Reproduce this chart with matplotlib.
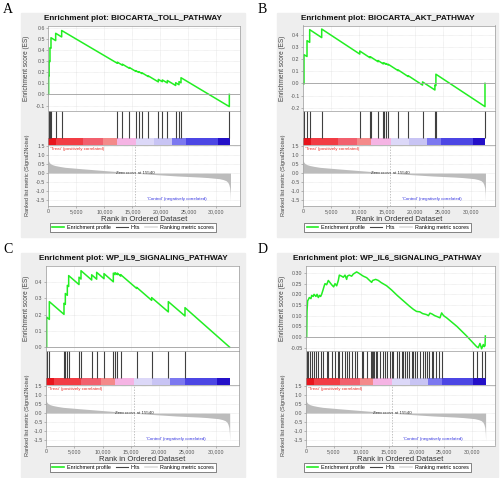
import matplotlib
matplotlib.use("Agg")
import matplotlib.pyplot as plt
from matplotlib.patches import Rectangle
from matplotlib.lines import Line2D

plt.rcParams['font.family'] = ['Liberation Sans', 'DejaVu Sans']

W, H = 500, 478

# shared ranked gene list
n_genes = 32500
x_max = 34200
zero_cross = 15540
metric_rank = [0, 50, 150, 350, 700, 1200, 2000, 3000, 4500, 6000, 8000, 10000, 12000,
               14000, 15540, 17000, 19000, 21000, 23000, 25000, 27000, 28500, 29500,
               30500, 31200, 31700, 32000, 32200, 32350, 32450, 32500]
metric_val = [0.75, 0.68, 0.6, 0.53, 0.47, 0.42, 0.37, 0.32, 0.28, 0.24, 0.19, 0.14, 0.09,
              0.04, 0.0, -0.04, -0.08, -0.12, -0.16, -0.19, -0.22, -0.25, -0.28,
              -0.31, -0.36, -0.42, -0.5, -0.62, -0.8, -1.1, -1.55]
bar_edges = [0, 1400, 6200, 9700, 12200, 15600, 18800, 22000, 24600, 30250, 32500]
bar_colors = ['#e8141c', '#f23c44', '#f2606e', '#f48a8a', '#f5b4e4',
              '#dcd8f8', '#c8c4f4', '#7c78f0', '#4c46e4', '#2410c8']
rank_ticks = [0, 5000, 10000, 15000, 20000, 25000, 30000]
rank_labels = ['0', '5,000', '10,000', '15,000', '20,000', '25,000', '30,000']
metric_ticks = [1.5, 1.0, 0.5, 0.0, -0.5, -1.0, -1.5]

# A
titleA = "Enrichment plot: BIOCARTA_TOLL_PATHWAY"
hitsA = [60, 150, 300, 480, 1315, 2385, 12315, 13207, 14456, 15587, 16122, 16716, 17846,
         19630, 20343, 21235, 22722, 23317, 23674, 32296]
esA_rank = [0, 60, 60, 150, 150, 300, 300, 480, 480, 1315, 1315, 2385, 2385, 12315, 12315,
            13207, 13207, 14456, 14456, 15587, 15587, 16122, 16122, 16716, 16716, 17846, 17846,
            19630, 19630, 20343, 20343, 21235, 21235, 22722, 22722, 23317, 23317, 23674, 23674,
            32296, 32296]
esA_val = [0, 0, 0.17, 0.167, 0.30, 0.295, 0.42, 0.415, 0.51, 0.484, 0.55, 0.517, 0.575, 0.28, 0.29,
           0.263, 0.272, 0.235, 0.242, 0.208, 0.214, 0.198, 0.205, 0.187, 0.194, 0.16, 0.166,
           0.1125, 0.135, 0.114, 0.13, 0.103, 0.125, 0.08, 0.105, 0.087, 0.115, 0.104, 0.15,
           -0.11, 0.0]
yticksA = [0.6, 0.5, 0.4, 0.3, 0.2, 0.1, 0.0, -0.1]

# B
titleB = "Enrichment plot: BIOCARTA_AKT_PATHWAY"
hitsB = [178, 714, 1190, 3331, 10112, 11896, 12074, 13383, 14275, 14454, 14751, 15167, 16952,
         18736, 21294, 23495, 23673, 32417]
esB_rank = [0, 178, 178, 714, 714, 1190, 1190, 3331, 3331, 10112, 10112, 11896, 11896, 12074,
            12074, 13383, 13383, 14275, 14275, 14454, 14454, 14751, 14751, 15167, 15167, 16952,
            16952, 18736, 18736, 21294, 21294, 23495, 23495, 23673, 23673, 32417, 32417]
esB_val = [0, -0.005, 0.235, 0.22, 0.35, 0.336, 0.44, 0.375, 0.445, 0.24, 0.265, 0.211, 0.216,
           0.211, 0.216, 0.177, 0.187, 0.16, 0.167, 0.162, 0.167, 0.158, 0.163, 0.151, 0.157,
           0.104, 0.11, 0.056, 0.063, -0.014, 0.012, -0.054, -0.013, -0.018, 0.075, -0.19, 0.0]
yticksB = [0.4, 0.3, 0.2, 0.1, 0.0, -0.1, -0.2]

# C
titleC = "Enrichment plot: WP_IL9_SIGNALING_PATHWAY"
hitsC = [118, 590, 3184, 3420, 3774, 4010, 5838, 6192, 8079, 8963, 10261, 11912, 12207, 12620,
         13209, 16040, 18694, 21642, 24591]
esC_rank = [0, 118, 118, 590, 590, 3184, 3184, 3420, 3420, 3774, 3774, 4010, 4010, 5838, 5838,
            6192, 6192, 8079, 8079, 8963, 8963, 10261, 10261, 11912, 11912, 12207, 12207, 12620,
            12620, 13209, 13209, 16040, 16040, 18694, 18694, 21642, 21642, 24591, 24591, 32500]
esC_val = [0, 0, 0.185, 0.171, 0.28, 0.202, 0.27, 0.263, 0.33, 0.319, 0.38, 0.373, 0.44, 0.385,
           0.43, 0.419, 0.47, 0.413, 0.445, 0.418, 0.46, 0.421, 0.452, 0.402, 0.455, 0.446,
           0.458, 0.446, 0.455, 0.437, 0.446, 0.361, 0.368, 0.288, 0.305, 0.217, 0.28, 0.192,
           0.243, 0.0]
yticksC = [0.0, 0.1, 0.2, 0.3, 0.4]

# D
titleD = "Enrichment plot: WP_IL6_SIGNALING_PATHWAY"
hitsD = [241, 422, 724, 1025, 1447, 1809, 2231, 2653, 3015, 3739, 4040, 4643, 5246, 5849, 6030,
         6452, 7055, 7477, 7839, 8261, 8864, 9166, 10070, 10372, 10975, 11698, 11879, 12060,
         12301, 12663, 12904, 13387, 13869, 14291, 14713, 15196, 15497, 15799, 16402, 16884,
         17306, 17608, 17909, 18331, 18693, 19115, 19417, 19718, 20140, 20623, 21105, 21527,
         21829, 22311, 22733, 23035, 23517, 24120, 24543, 30150, 30874, 31780, 32383]
esD_rank = [0, 120, 180, 300, 422, 600, 900, 1025, 1300, 1450, 1800, 2000, 2230, 2450, 2650,
            2830, 3015, 3300, 3440, 3740, 4040, 4340, 4640, 5000, 5250, 5550, 5850, 6030, 6450,
            6750, 7055, 7357, 7480, 7840, 8260, 8560, 8860, 9166, 9500, 10070, 10372, 10975,
            11500, 11879, 12060, 12600, 13085, 13600, 14593, 15500, 16500, 17600, 18700, 19417,
            20000, 20600, 21100, 21829, 22150, 22432, 22800, 23300, 23800, 24241, 24543, 24900,
            25447, 27300, 29065, 30150, 30874, 31176, 31478, 31780, 32082, 32250, 32400, 32450]
esD_val = [0, 0.0, 0.12, 0.17, 0.175, 0.185, 0.18, 0.195, 0.19, 0.20, 0.19, 0.2, 0.185, 0.195,
           0.19, 0.2, 0.215, 0.24, 0.25, 0.245, 0.265, 0.255, 0.245, 0.235, 0.25, 0.24, 0.265,
           0.29, 0.285, 0.28, 0.29, 0.27, 0.285, 0.29, 0.285, 0.295, 0.30, 0.305, 0.30, 0.29,
           0.285, 0.278, 0.265, 0.256, 0.265, 0.27, 0.265, 0.255, 0.24, 0.22, 0.195, 0.17,
           0.145, 0.13, 0.12, 0.118, 0.11, 0.105, 0.1, 0.112, 0.108, 0.1, 0.095, 0.09, 0.113,
           0.1, 0.09, 0.05, 0.005, -0.025, -0.045, -0.05, -0.03, -0.055, -0.035, -0.045, -0.04,
           0.005]
yticksD = [0.30, 0.25, 0.20, 0.15, 0.10, 0.05, 0.00, -0.05]

panels = [
    dict(letter='A', title=titleA, hits=hitsA, er=esA_rank, ev=esA_val, yt=yticksA,
         ylim=(-0.145, 0.62), fmt='{:.1f}', gx=(21, 245), top=13, ax=(48.3, 240)),
    dict(letter='B', title=titleB, hits=hitsB, er=esB_rank, ev=esB_val, yt=yticksB,
         ylim=(-0.222, 0.474), fmt='{:.1f}', gx=(277, 498), top=13, ax=(303, 495)),
    dict(letter='C', title=titleC, hits=hitsC, er=esC_rank, ev=esC_val, yt=yticksC,
         ylim=(-0.02, 0.502), fmt='{:.1f}', gx=(21, 245), top=253, ax=(46, 239.3)),
    dict(letter='D', title=titleD, hits=hitsD, er=esD_rank, ev=esD_val, yt=yticksD,
         ylim=(-0.063, 0.335), fmt='{:.2f}', gx=(277, 498), top=253, ax=(306, 495)),
]

fig = plt.figure(figsize=(5, 4.78), dpi=100)


def box(l, t, r, b):
    return [l / W, 1 - b / H, (r - l) / W, (b - t) / H]


def style(ax):
    for s in ax.spines.values():
        s.set_color('#9a9a9a')
        s.set_linewidth(0.5)
    ax.tick_params(labelsize=3.8, length=1.5, width=0.4, color='#888888',
                   labelcolor='#555555', pad=1)
    ax.grid(True, color='#d8d8d8', lw=0.4, ls=(0, (1, 1)))
    ax.set_axisbelow(True)


green = '#22ee22'
for p in panels:
    T = p['top']
    gx0, gx1 = p['gx']
    al, ar = p['ax']
    fig.patches.append(Rectangle((gx0 / W, 1 - (T + 224) / H), (gx1 - gx0) / W, 224 / H,
                                 transform=fig.transFigure, color='#eeeeee', zorder=-5))
    fig.text((gx0 - 18) / W if gx0 < 100 else (gx0 - 19) / W, 1 - (T - 10) / H, p['letter'],
             family='Liberation Serif', fontsize=10, ha='left', va='top')
    fig.text((gx0 + gx1) / 2 / W, 1 - (T + 5.5) / H, p['title'], fontsize=5.9,
             fontweight='bold', ha='center', va='center', color='#111111')

    # enrichment score
    ax1 = fig.add_axes(box(al, T + 12.5, ar, T + 97.5))
    style(ax1)
    ax1.plot(p['er'], p['ev'], color=green, lw=1.1)
    ax1.axhline(0, color='#a0a0a0', lw=0.6)
    ax1.set_xlim(0, x_max)
    ax1.set_ylim(*p['ylim'])
    ax1.set_xticks(rank_ticks)
    ax1.set_xticklabels([])
    ax1.tick_params(axis='x', length=0)
    ax1.set_yticks(p['yt'])
    ax1.set_yticklabels([p['fmt'].format(v) for v in p['yt']])
    ax1.set_ylabel('Enrichment score (ES)', fontsize=4.7, color='#444444')
    ax1.yaxis.set_label_coords(-(al - gx0 - 9) / (ar - al), 0.5)

    # hits + colour bar
    ax2 = fig.add_axes(box(al, T + 97.5, ar, T + 132))
    for s in ax2.spines.values():
        s.set_color('#9a9a9a')
        s.set_linewidth(0.5)
    ax2.vlines(p['hits'], 0.2, 1, color='#404040', lw=0.8)
    for i in range(len(bar_colors)):
        ax2.bar(bar_edges[i], 0.2, width=bar_edges[i + 1] - bar_edges[i], bottom=0,
                align='edge', color=bar_colors[i], lw=0)
    ax2.set_xlim(0, x_max)
    ax2.set_ylim(0, 1)
    ax2.set_xticks([])
    ax2.set_yticks([])

    # ranked list metric
    ax3 = fig.add_axes(box(al, T + 132, ar, T + 192.5))
    style(ax3)
    ax3.fill_between(metric_rank, metric_val, 0, color='#bcbcbc', lw=0)
    ax3.axvline(zero_cross, color='#aaaaaa', lw=0.5, ls=(0, (2, 2)))
    ax3.set_xlim(0, x_max)
    ax3.set_ylim(-1.8, 1.56)
    ax3.set_yticks(metric_ticks)
    ax3.set_yticklabels(['{:.1f}'.format(v) for v in metric_ticks])
    ax3.set_xticks(rank_ticks)
    ax3.set_xticklabels(rank_labels)
    ax3.set_xlabel('Rank in Ordered Dataset', fontsize=5.6, color='#333333', labelpad=1.2)
    ax3.set_ylabel('Ranked list metric (Signal2Noise)', fontsize=4.0, color='#444444')
    ax3.yaxis.set_label_coords(-(al - gx0 - 9) / (ar - al), 0.5)
    ax3.text(300, 1.33, "'Treat' (positively correlated)", color='#e8302a', fontsize=3.2,
             ha='left', va='center')
    ax3.text(zero_cross, -0.02, 'Zero cross at 15540', color='#333333', fontsize=3.2,
             ha='center', va='center')
    ax3.text(22900, -1.43, "'Control' (negatively correlated)", color='#3535e0', fontsize=3.2,
             ha='center', va='center')

    handles = [Line2D([], [], color=green, lw=1.2, label='Enrichment profile'),
               Line2D([], [], color='#444444', lw=0.8, label='Hits'),
               Line2D([], [], color='#dddddd', lw=1.2, label='Ranking metric scores')]
    leg = fig.legend(handles=handles, loc='center',
                     bbox_to_anchor=((gx0 + gx1) / 2 / W, 1 - (T + 214.5) / H),
                     ncol=3, fontsize=3.9, frameon=True, fancybox=False, edgecolor='#555555',
                     facecolor='white', framealpha=1, handlelength=2.2, handletextpad=0.5,
                     columnspacing=1.0, borderpad=0.4)
    leg.get_frame().set_linewidth(0.5)

fig.savefig('out.png', dpi=100)
